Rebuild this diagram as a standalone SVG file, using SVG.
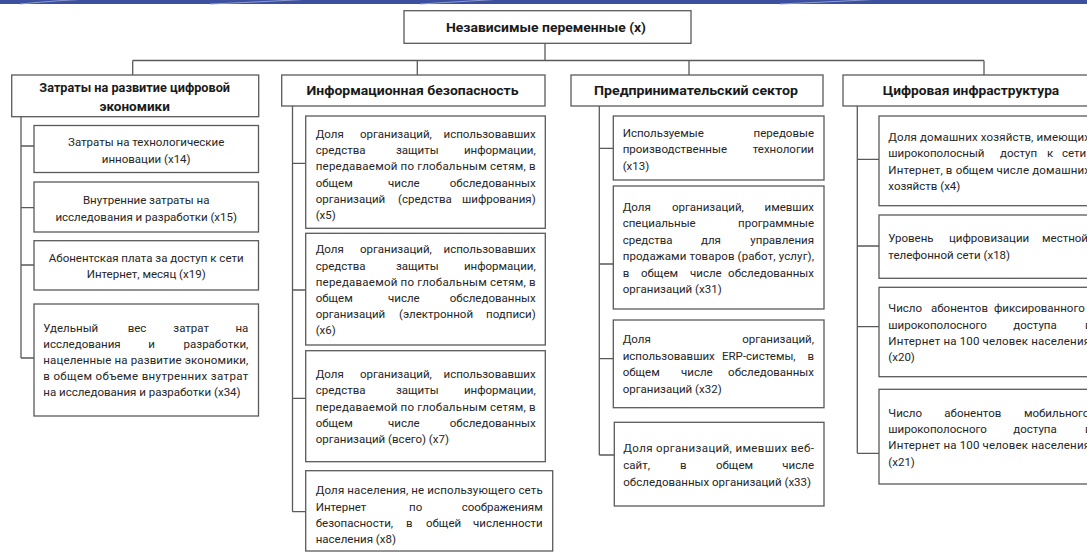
<svg xmlns="http://www.w3.org/2000/svg" width="1087" height="553" viewBox="0 0 1087 553">
<style>
.bg{fill:#ffffff}
.box{fill:#ffffff;stroke:#5a5a5a;stroke-width:1.3}
.ln{fill:none;stroke:#5a5a5a;stroke-width:1.3}
.t{font-family:Roboto,"Liberation Sans",sans-serif;font-size:11.5px;fill:#262626}
.h{font-family:Roboto,"Liberation Sans",sans-serif;font-size:13.5px;font-weight:bold;fill:#1a1a1a;text-anchor:middle}
.c{text-anchor:middle}
.e{text-anchor:end}
</style>
<rect class="bg" x="0" y="0" width="1087" height="553"/>
<g id="banner">
<rect x="0" y="0" width="1087" height="4" fill="#3d4f9f"/>
<path d="M20 4 Q60 0 110 -2 M210 4 Q280 1 330 -2 M420 4 Q470 1 520 -2 M780 4 Q850 1 900 -2" stroke="#8e9bd0" stroke-width="1" fill="none"/>
</g>
<g id="connectors">
<line class="ln" x1="545" y1="43.3" x2="545" y2="60.5"/>
<line class="ln" x1="132.7" y1="60.5" x2="984" y2="60.5"/>
<line class="ln" x1="132.7" y1="60.5" x2="132.7" y2="75"/>
<line class="ln" x1="417.3" y1="60.5" x2="417.3" y2="75"/>
<line class="ln" x1="689" y1="60.5" x2="689" y2="75"/>
<line class="ln" x1="984" y1="60.5" x2="984" y2="75"/>
<path class="ln" d="M21 116.7 V358 M21 146 H34 M21 207.7 H34 M21 265 H34 M21 358 H34"/>
<path class="ln" d="M292.5 106 V511.7 M292.5 163.3 H305.7 M292.5 290 H305.7 M292.5 398.3 H305.7 M292.5 511.7 H305.7"/>
<path class="ln" d="M599.3 106 V455 M599.3 148.3 H613.3 M599.3 264 H613.3 M599.3 358.7 H613.3 M599.3 455 H614.3"/>
<path class="ln" d="M857.3 106 V453.3 M857.3 159.3 H879 M857.3 246 H879 M857.3 326.7 H879 M857.3 453.3 H879"/>
</g>
<g id="root">
<rect class="box" x="404" y="10.7" width="287" height="32.6"/>
<text class="h" x="546" y="31.5" textLength="200" lengthAdjust="spacingAndGlyphs">Независимые переменные (x)</text>
</g>
<g id="cat1">
<rect class="box" x="11.7" y="75" width="247" height="41.7"/>
<text class="h" x="134.7" y="91.8" textLength="190.7" lengthAdjust="spacingAndGlyphs">Затраты на развитие цифровой</text>
<text class="h" x="134.7" y="110.5">экономики</text>
</g>
<g id="x14">
<rect class="box" x="34" y="125.5" width="224.5" height="47"/>
<text class="t c" x="146.2" y="146.3">Затраты на технологические</text>
<text class="t c" x="146.2" y="163">инновации (x14)</text>
</g>
<g id="x15">
<rect class="box" x="34" y="182" width="224.5" height="50"/>
<text class="t c" x="146.2" y="204">Внутренние затраты на</text>
<text class="t c" x="146.2" y="220.7">исследования и разработки (x15)</text>
</g>
<g id="x19">
<rect class="box" x="34" y="240.7" width="224.5" height="49.3"/>
<text class="t c" x="146.2" y="261.7">Абонентская плата за доступ к сети</text>
<text class="t c" x="146.2" y="278.3">Интернет, месяц (x19)</text>
</g>
<g id="x34">
<rect class="box" x="34" y="304" width="224.5" height="112"/>
<text class="t" y="331.7"><tspan x="43.3">Удельный</tspan><tspan x="127.7">вес</tspan><tspan x="173.3">затрат</tspan></text>
<text class="t e" x="248.3" y="331.7">на</text>
<text class="t" y="347.7"><tspan x="43.3">исследования</tspan><tspan x="148.3">и</tspan></text>
<text class="t e" x="248.3" y="347.7">разработки,</text>
<text class="t" x="43.3" y="363.7" textLength="205" lengthAdjust="spacing">нацеленные на развитие экономики,</text>
<text class="t" x="43.3" y="380" textLength="205" lengthAdjust="spacing">в общем объеме внутренних затрат</text>
<text class="t" x="43.3" y="396">на исследования и разработки (x34)</text>
</g>
<g id="cat2">
<rect class="box" x="281.7" y="75" width="263.3" height="31"/>
<text class="h" x="412.5" y="95" textLength="212" lengthAdjust="spacingAndGlyphs">Информационная безопасность</text>
</g>
<g id="x5">
<rect class="box" x="305.7" y="116" width="239.6" height="112.3"/>
<text class="t" y="138"><tspan x="315.7">Доля</tspan><tspan x="360">организаций,</tspan></text>
<text class="t e" x="535.7" y="138">использовавших</text>
<text class="t" y="154.2"><tspan x="315.7">средства</tspan><tspan x="396">защиты</tspan></text>
<text class="t e" x="535.7" y="154.2">информации,</text>
<text class="t" x="315.7" y="170.4" textLength="220" lengthAdjust="spacing">передаваемой по глобальным сетям, в</text>
<text class="t" y="186.6"><tspan x="315.7">общем</tspan><tspan x="388">числе</tspan></text>
<text class="t e" x="535.7" y="186.6">обследованных</text>
<text class="t" y="202.8"><tspan x="315.7">организаций</tspan><tspan x="398">(средства</tspan></text>
<text class="t e" x="535.7" y="202.8">шифрования)</text>
<text class="t" x="315.7" y="219">(x5)</text>
</g>
<g id="x6">
<rect class="box" x="305.7" y="233.3" width="239.6" height="111.7"/>
<text class="t" y="253"><tspan x="315.7">Доля</tspan><tspan x="360">организаций,</tspan></text>
<text class="t e" x="535.7" y="253">использовавших</text>
<text class="t" y="269.5"><tspan x="315.7">средства</tspan><tspan x="396">защиты</tspan></text>
<text class="t e" x="535.7" y="269.5">информации,</text>
<text class="t" x="315.7" y="285.7" textLength="220" lengthAdjust="spacing">передаваемой по глобальным сетям, в</text>
<text class="t" y="301.9"><tspan x="315.7">общем</tspan><tspan x="388">числе</tspan></text>
<text class="t e" x="535.7" y="301.9">обследованных</text>
<text class="t" y="318.1"><tspan x="315.7">организаций</tspan><tspan x="399">(электронной</tspan></text>
<text class="t e" x="535.7" y="318.1">подписи)</text>
<text class="t" x="315.7" y="334.3">(x6)</text>
</g>
<g id="x7">
<rect class="box" x="305.7" y="350.7" width="239.6" height="111"/>
<text class="t" y="378"><tspan x="315.7">Доля</tspan><tspan x="360">организаций,</tspan></text>
<text class="t e" x="535.7" y="378">использовавших</text>
<text class="t" y="394.3"><tspan x="315.7">средства</tspan><tspan x="396">защиты</tspan></text>
<text class="t e" x="535.7" y="394.3">информации,</text>
<text class="t" x="315.7" y="410.6" textLength="220" lengthAdjust="spacing">передаваемой по глобальным сетям, в</text>
<text class="t" y="426.9"><tspan x="315.7">общем</tspan><tspan x="388">числе</tspan></text>
<text class="t e" x="535.7" y="426.9">обследованных</text>
<text class="t" x="315.7" y="443.2">организаций (всего) (x7)</text>
</g>
<g id="x8">
<rect class="box" x="305.7" y="470.7" width="247" height="80.3"/>
<text class="t" x="315.7" y="494" textLength="227" lengthAdjust="spacing">Доля населения, не использующего сеть</text>
<text class="t" y="510.5"><tspan x="315.7">Интернет</tspan><tspan x="409">по</tspan></text>
<text class="t e" x="542.7" y="510.5">соображениям</text>
<text class="t" y="527"><tspan x="315.7">безопасности,</tspan><tspan x="406">в</tspan><tspan x="426">общей</tspan></text>
<text class="t e" x="542.7" y="527">численности</text>
<text class="t" x="315.7" y="543.3">населения (x8)</text>
</g>
<g id="cat3">
<rect class="box" x="571" y="75" width="252" height="31"/>
<text class="h" x="696" y="95" textLength="204" lengthAdjust="spacingAndGlyphs">Предпринимательский сектор</text>
</g>
<g id="x13">
<rect class="box" x="613.3" y="116" width="210.7" height="64"/>
<text class="t" x="622.7" y="136.7">Используемые</text>
<text class="t e" x="814" y="136.7">передовые</text>
<text class="t" x="622.7" y="153.3">производственные</text>
<text class="t e" x="814" y="153.3">технологии</text>
<text class="t" x="622.7" y="169.7">(x13)</text>
</g>
<g id="x31">
<rect class="box" x="613.3" y="186" width="210.7" height="123"/>
<text class="t" y="210.7"><tspan x="622.7">Доля</tspan><tspan x="672">организаций,</tspan></text>
<text class="t e" x="814" y="210.7">имевших</text>
<text class="t" x="622.7" y="227.3">специальные</text>
<text class="t e" x="814" y="227.3">программные</text>
<text class="t" y="244"><tspan x="622.7">средства</tspan><tspan x="701">для</tspan></text>
<text class="t e" x="814" y="244">управления</text>
<text class="t" x="622.7" y="260.3" textLength="191.3" lengthAdjust="spacing">продажами товаров (работ, услуг),</text>
<text class="t" y="276.7"><tspan x="622.7">в</tspan><tspan x="641">общем</tspan><tspan x="690">числе</tspan></text>
<text class="t e" x="814" y="276.7">обследованных</text>
<text class="t" x="622.7" y="292.9">организаций (x31)</text>
</g>
<g id="x32">
<rect class="box" x="613.3" y="320" width="210.7" height="87.7"/>
<text class="t" x="622.7" y="343.3">Доля</text>
<text class="t e" x="814" y="343.3">организаций,</text>
<text class="t" y="360"><tspan x="622.7">использовавших</tspan><tspan x="722">ERP-системы,</tspan></text>
<text class="t e" x="814" y="360">в</text>
<text class="t" y="376.3"><tspan x="622.7">общем</tspan><tspan x="681">числе</tspan></text>
<text class="t e" x="814" y="376.3">обследованных</text>
<text class="t" x="622.7" y="392.7">организаций (x32)</text>
</g>
<g id="x33">
<rect class="box" x="614.3" y="422.3" width="209.7" height="83.7"/>
<text class="t" x="623.3" y="452.3" textLength="190.7" lengthAdjust="spacing">Доля организаций, имевших веб-</text>
<text class="t" y="469"><tspan x="623.3">сайт,</tspan><tspan x="680">в</tspan><tspan x="716">общем</tspan></text>
<text class="t e" x="814" y="469">числе</text>
<text class="t" x="623.3" y="485.7">обследованных организаций (x33)</text>
</g>
<g id="cat4">
<rect class="box" x="843" y="75" width="257" height="31"/>
<text class="h" x="971" y="95" textLength="176.5" lengthAdjust="spacingAndGlyphs">Цифровая инфраструктура</text>
</g>
<g id="x4">
<rect class="box" x="879" y="116" width="221" height="89.7"/>
<text class="t" x="888.3" y="140.7" textLength="201.7" lengthAdjust="spacing">Доля домашних хозяйств, имеющих</text>
<text class="t" y="157.3"><tspan x="888.3">широкополосный</tspan><tspan x="1000">доступ</tspan><tspan x="1047">к</tspan><tspan x="1062">сети</tspan></text>
<text class="t" x="888.3" y="173.5" textLength="201.7" lengthAdjust="spacing">Интернет, в общем числе домашних</text>
<text class="t" x="888.3" y="190">хозяйств (x4)</text>
</g>
<g id="x18">
<rect class="box" x="879" y="215" width="221" height="63.3"/>
<text class="t" y="242.3"><tspan x="888.3">Уровень</tspan><tspan x="949">цифровизации</tspan><tspan x="1042">местной</tspan></text>
<text class="t" x="888.3" y="259">телефонной сети (x18)</text>
</g>
<g id="x20">
<rect class="box" x="879" y="287.3" width="221" height="89.4"/>
<text class="t" y="312.3"><tspan x="888.3">Число</tspan><tspan x="931">абонентов</tspan><tspan x="994">фиксированного</tspan></text>
<text class="t" y="328.5"><tspan x="888.3">широкополосного</tspan><tspan x="1013.3">доступа</tspan><tspan x="1085">в</tspan></text>
<text class="t" x="888.3" y="345" textLength="201.7" lengthAdjust="spacing">Интернет на 100 человек населения</text>
<text class="t" x="888.3" y="361.3">(x20)</text>
</g>
<g id="x21">
<rect class="box" x="879" y="389.3" width="221" height="94.7"/>
<text class="t" y="416.7"><tspan x="888.3">Число</tspan><tspan x="944.3">абонентов</tspan><tspan x="1024">мобильного</tspan></text>
<text class="t" y="432.7"><tspan x="888.3">широкополосного</tspan><tspan x="1013.3">доступа</tspan><tspan x="1085">в</tspan></text>
<text class="t" x="888.3" y="449" textLength="201.7" lengthAdjust="spacing">Интернет на 100 человек населения</text>
<text class="t" x="888.3" y="465.7">(x21)</text>
</g>
</svg>
